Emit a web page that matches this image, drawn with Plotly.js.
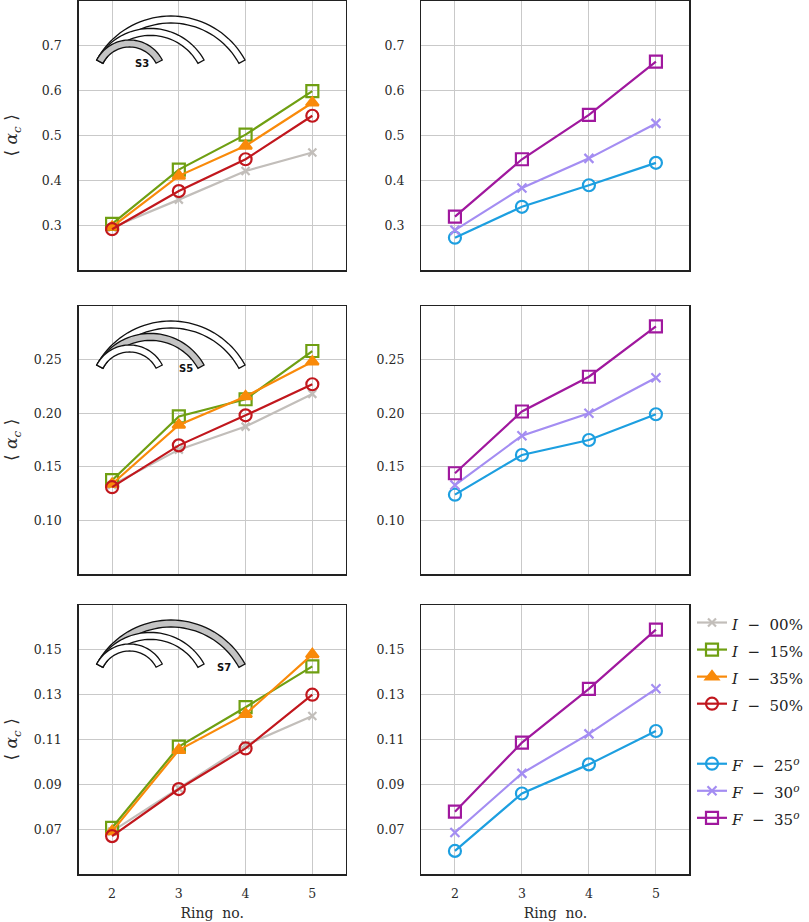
<!DOCTYPE html>
<html>
<head>
<meta charset="utf-8">
<script src="https://cdn.plot.ly/plotly-3.0.1.min.js"></script>
<style>
  html, body { margin: 0; padding: 0; background: #fff; }
  #plot { width: 809px; height: 922px; }
</style>
</head>
<body>
<div id="plot"></div>
<script>
// ring numbers on the x axis
var rings = [2, 3, 4, 5];

// S3 case (top row)
var s3_i00 = [0.295, 0.357, 0.421, 0.462];
var s3_i15 = [0.303, 0.424, 0.502, 0.599];
var s3_i35 = [0.296, 0.410, 0.477, 0.573];
var s3_i50 = [0.291, 0.376, 0.447, 0.544];
var s3_f25 = [0.272, 0.341, 0.389, 0.439];
var s3_f30 = [0.289, 0.383, 0.449, 0.527];
var s3_f35 = [0.319, 0.447, 0.546, 0.665];

// S5 case (middle row)
var s5_i00 = [0.133, 0.166, 0.1875, 0.218];
var s5_i15 = [0.1375, 0.197, 0.213, 0.258];
var s5_i35 = [0.134, 0.189, 0.2156, 0.248];
var s5_i50 = [0.131, 0.170, 0.198, 0.227];
var s5_f25 = [0.124, 0.161, 0.175, 0.199];
var s5_f30 = [0.133, 0.179, 0.200, 0.233];
var s5_f35 = [0.144, 0.2016, 0.234, 0.281];

// S7 case (bottom row)
var s7_i00 = [0.069, 0.0882, 0.1075, 0.1205];
var s7_i15 = [0.0706, 0.1068, 0.1244, 0.1426];
var s7_i35 = [0.069, 0.1053, 0.1213, 0.148];
var s7_i50 = [0.0669, 0.0879, 0.106, 0.130];
var s7_f25 = [0.0603, 0.0859, 0.0989, 0.1138];
var s7_f30 = [0.0685, 0.0949, 0.1125, 0.1326];
var s7_f35 = [0.0778, 0.1086, 0.1326, 0.159];

var iNames = ["<i>I</i>  −  00%", "<i>I</i>  −  15%", "<i>I</i>  −  35%", "<i>I</i>  −  50%"];
var fNames = ["<i>F</i>  −  25<sup><i>o</i></sup>", "<i>F</i>  −  30<sup><i>o</i></sup>", "<i>F</i>  −  35<sup><i>o</i></sup>"];
var caseLabels = ["S3", "S5", "S7"];

var W = 809, H = 922;
var colL = [79, 347], colR = [423, 692];
var rowsPx = [[1, 270], [306, 574], [605, 874]];

var iStyle = [
  {color: "#c2beba", symbol: "x-thin-open", size: 8},
  {color: "#6f9f12", symbol: "square-open", size: 12},
  {color: "#f98a0a", symbol: "triangle-up", size: 11},
  {color: "#c1171d", symbol: "circle-open", size: 12}
];
var fStyle = [
  {color: "#1d9fe0", symbol: "circle-open", size: 12},
  {color: "#a48df2", symbol: "x-thin-open", size: 9},
  {color: "#a0189e", symbol: "square-open", size: 12}
];

function mk(y, st, name, ax, group, legend) {
  return {
    x: rings, y: y, type: "scatter", mode: "lines+markers",
    name: '<span style="font-size:15px">' + name + '</span>',
    xaxis: "x" + ax, yaxis: "y" + ax,
    legendgroup: group, showlegend: legend,
    line: {color: st.color, width: 2.2},
    marker: {color: st.color, symbol: st.symbol, size: st.size, line: {color: st.color, width: 2.2}}
  };
}

var iSets = [[s3_i00, s3_i15, s3_i35, s3_i50], [s5_i00, s5_i15, s5_i35, s5_i50], [s7_i00, s7_i15, s7_i35, s7_i50]];
var fSets = [[s3_f25, s3_f30, s3_f35], [s5_f25, s5_f30, s5_f35], [s7_f25, s7_f30, s7_f35]];

var data = [];
for (var r = 0; r < 3; r++) {
  for (var k = 0; k < 4; k++) data.push(mk(iSets[r][k], iStyle[k], iNames[k], 2 * r + 1, "I", r == 2));
  for (var k = 0; k < 3; k++) data.push(mk(fSets[r][k], fStyle[k], fNames[k], 2 * r + 2, "F", r == 2));
}

var yRanges = [[0.2, 0.8], [0.05, 0.3], [0.05, 0.17]];
var yTicks = [[0.3, 0.4, 0.5, 0.6, 0.7], [0.10, 0.15, 0.20, 0.25], [0.07, 0.09, 0.11, 0.13, 0.15]];
var yFormat = [".1f", ".2f", ".2f"];
var tickFont = {family: "DejaVu Serif", size: 12.5, color: "#2a2a2a"};

var layout = {
  width: W, height: H, autosize: false,
  margin: {l: 0, r: 0, t: 0, b: 0},
  paper_bgcolor: "#fff", plot_bgcolor: "#fff",
  font: {family: "DejaVu Serif", color: "#222"},
  showlegend: true,
  legend: {
    x: 695 / W, y: 1 - 604 / H, xanchor: "left", yanchor: "top",
    traceorder: "grouped", tracegroupgap: 33,
    font: {family: "DejaVu Serif", size: 18.5, color: "#222"},
    bgcolor: "rgba(0,0,0,0)"
  },
  shapes: [], annotations: []
};

for (var r = 0; r < 3; r++) {
  for (var c = 0; c < 2; c++) {
    var n = 2 * r + c + 1;
    var col = c == 0 ? colL : colR;
    var xa = {
      domain: [col[0] / W, col[1] / W], range: [1.5, 5.5],
      anchor: "y" + n, tickvals: rings, showticklabels: r == 2,
      tickfont: tickFont, ticklabelstandoff: 7,
      showgrid: true, gridcolor: "#c9c9c9", gridwidth: 1, zeroline: false,
      showline: true, mirror: true, linecolor: "#222", linewidth: 1.5
    };
    if (r == 2) xa.title = {text: "Ring  no.", font: {family: "DejaVu Serif", size: 14, color: "#2a2a2a"}, standoff: 8};
    layout["xaxis" + n] = xa;
    layout["yaxis" + n] = {
      domain: [1 - rowsPx[r][1] / H, 1 - rowsPx[r][0] / H], range: yRanges[r],
      anchor: "x" + n, tickvals: yTicks[r], tickformat: yFormat[r],
      tickfont: tickFont, ticklabelstandoff: 13,
      showgrid: true, gridcolor: "#c9c9c9", gridwidth: 1, zeroline: false,
      showline: true, mirror: true, linecolor: "#222", linewidth: 1.5
    };
  }
  // y title on the left of each row
  layout.annotations.push({
    xref: "paper", yref: "paper", x: 13 / W, y: 1 - (rowsPx[r][0] + rowsPx[r][1]) / 2 / H,
    xanchor: "center", yanchor: "middle",
    text: "⟨ <i>α</i><sub><i>c</i></sub> ⟩", showarrow: false, textangle: -90,
    font: {family: "DejaVu Serif", size: 17, color: "#2a2a2a"}
  });
}

// ring sketch in each left panel: three arcs sharing their left foot, one shaded
var arcs = [
  {cx: 51, cy: 76, R: 37},
  {cx: 72, cy: 89, R: 61.6},
  {cx: 92.5, cy: 100, R: 85}
];
var labelPos = [[64, 62], [108, 62], [146, 62]];

function arcPath(a, left, top) {
  var t = 7;
  var phi = Math.asin(Math.sqrt(a.R * a.R - (a.cy - 59) * (a.cy - 59)) / a.R);
  var pts = [];
  var steps = 40;
  for (var i = 0; i <= steps; i++) {
    var th = -phi + 2 * phi * i / steps;
    pts.push([a.cx + a.R * Math.sin(th), a.cy - a.R * Math.cos(th)]);
  }
  for (var i = steps; i >= 0; i--) {
    var th = -phi + 2 * phi * i / steps;
    pts.push([a.cx + (a.R - t) * Math.sin(th), a.cy - (a.R - t) * Math.cos(th)]);
  }
  var d = "";
  for (var i = 0; i < pts.length; i++) {
    var px = (left + pts[i][0]) / W, py = 1 - (top + pts[i][1]) / H;
    d += (i == 0 ? "M" : "L") + px.toFixed(5) + "," + py.toFixed(5);
  }
  return d + "Z";
}

for (var r = 0; r < 3; r++) {
  for (var k = 2; k >= 0; k--) {
    layout.shapes.push({
      type: "path", xref: "paper", yref: "paper",
      path: arcPath(arcs[k], colL[0], rowsPx[r][0]),
      fillcolor: k == r ? "#c4c4c4" : "#fff",
      line: {color: "#111", width: 1.3}
    });
  }
  layout.annotations.push({
    xref: "paper", yref: "paper", xanchor: "center", yanchor: "middle",
    x: (colL[0] + labelPos[r][0]) / W, y: 1 - (rowsPx[r][0] + labelPos[r][1]) / H,
    text: "<b>" + caseLabels[r] + "</b>", showarrow: false,
    font: {family: "DejaVu Sans", size: 10, color: "#111"}
  });
}

Plotly.newPlot("plot", data, layout, {staticPlot: true});
</script>
</body>
</html>
